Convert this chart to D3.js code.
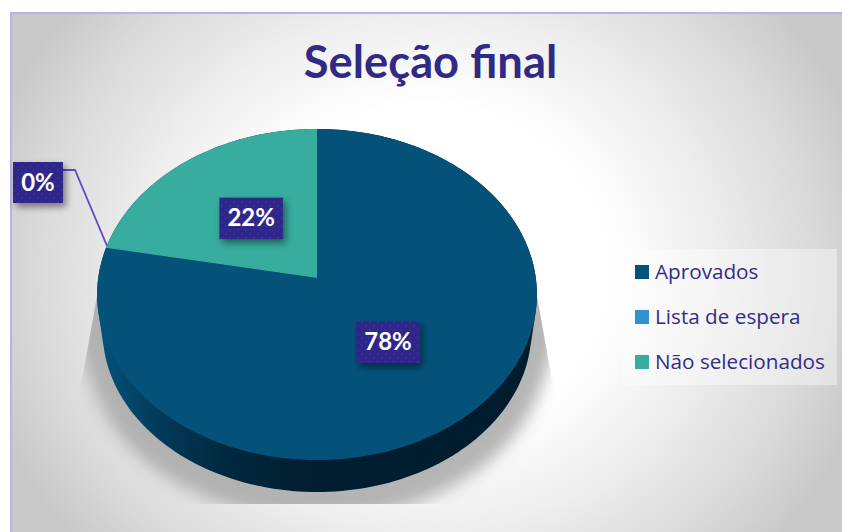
<!DOCTYPE html>
<html><head><meta charset="utf-8">
<style>html,body{margin:0;padding:0;background:#fff;overflow:hidden}svg{display:block}</style>
<script src="https://cdn.jsdelivr.net/npm/d3@7"></script></head>
<body><svg id="c" width="842" height="532"></svg>
<script>
const categories = ["Aprovados", "Lista de espera", "Não selecionados"];
const values = [78, 0, 22];
const colors = ["#04527a", "#3491d1", "#38ac9f"];
const title = "Seleção final";

const svg = d3.select("#c");
const defs = svg.append("defs");

const bg = defs.append("radialGradient").attr("id","bg").attr("gradientUnits","userSpaceOnUse")
  .attr("cx",0).attr("cy",0).attr("r",1)
  .attr("gradientTransform","translate(425 272) scale(460 418)");
[[0,"#ffffff"],[0.4,"#ffffff"],[0.62,"#eeeeee"],[0.85,"#d9d9d9"],[1,"#c8c8c8"]]
  .forEach(s=>bg.append("stop").attr("offset",s[0]).attr("stop-color",s[1]));

const wall = defs.append("linearGradient").attr("id","wall").attr("gradientUnits","userSpaceOnUse")
  .attr("x1",100).attr("x2",535).attr("y1",0).attr("y2",0);
[[0,"#04527a"],[0.14,"#013a58"],[0.29,"#00283f"],[0.44,"#001f32"],[1,"#001c2e"]]
  .forEach(s=>wall.append("stop").attr("offset",s[0]).attr("stop-color",s[1]));

const pat = defs.append("pattern").attr("id","dots").attr("patternUnits","userSpaceOnUse").attr("width",8).attr("height",8);
pat.append("rect").attr("width",8).attr("height",8).attr("fill","#2f2588");
pat.append("rect").attr("x",1).attr("y",1).attr("width",2).attr("height",2).attr("fill","#382d9a");
pat.append("rect").attr("x",5).attr("y",5).attr("width",2).attr("height",2).attr("fill","#382d9a");

const blur = defs.append("filter").attr("id","blur").attr("x","-20%").attr("y","-20%").attr("width","140%").attr("height","140%");
blur.append("feGaussianBlur").attr("stdDeviation",8);
const ds = defs.append("filter").attr("id","ds").attr("x","-30%").attr("y","-30%").attr("width","170%").attr("height","170%");
ds.append("feDropShadow").attr("dx",3).attr("dy",4).attr("stdDeviation",3.5).attr("flood-color","#000").attr("flood-opacity",0.45);

svg.append("rect").attr("x",11).attr("y",13).attr("width",840).attr("height",530)
  .attr("fill","url(#bg)").attr("stroke","#b9b0ee").attr("stroke-width",2);

svg.append("text").attr("x",430.5).attr("y",78).attr("text-anchor","middle")
  .attr("font-family","Lato").attr("font-weight",700).attr("font-size",45.3).attr("fill","#312a85").text(title);

// projective view of the unit disc
const cx = 317, cy = 278, rx = 218.8, ry = 163.9, k = -0.0997;
const sx = d3.scaleLinear().domain([-1,1]).range([-rx,rx]);
const sy = d3.scaleLinear().domain([-1,1]).range([-ry,ry]);
const proj = (a,f=1,dy=0,s=1)=>{
  const u=Math.sin(a)*f, v=-Math.cos(a)*f, w=1+k*v;
  return [cx+s*sx(u)/w, cy+dy+s*sy(v)/w];
};
const line = d3.line().curve(d3.curveLinearClosed);
const ring = (dy,s)=>d3.range(0,361,1.5).map(d=>proj(d*Math.PI/180,1,dy,s));

const arcs = d3.pie().sort(null).value(d=>d)(values);

// ground shadow
const clip = defs.append("clipPath").attr("id","sc");
clip.append("path").attr("d","M97 296 L82 380 L60 440 L60 504 L580 504 L570 440 L552 380 L537 296 Z");
svg.append("g").attr("clip-path","url(#sc)").append("path")
  .attr("d",line(d3.polygonHull(ring(24,1.09).concat(ring(50,1.05)))))
  .attr("fill","#a8a8a8").attr("opacity",0.85).attr("filter","url(#blur)");

// wall
svg.append("path").attr("d",line(d3.polygonHull(ring(0,1).concat(ring(36.5,0.975))))).attr("fill","url(#wall)");

// top surface
arcs.forEach((a,i)=>{
  if(a.endAngle-a.startAngle<=0) return;
  const n=Math.max(2,Math.ceil((a.endAngle-a.startAngle)*180/Math.PI));
  const pts=[[cx,cy]].concat(d3.range(n+1).map(j=>proj(a.startAngle+(a.endAngle-a.startAngle)*j/n)));
  svg.append("path").attr("d",line(pts)).attr("fill",colors[i]);
});

// leader for the empty slice
const z = arcs[1], zp = proj(z.startAngle);
svg.append("path").attr("d",d3.line()([[62,170],[75,170],[zp[0]+1,zp[1]-2]]))
  .attr("fill","none").attr("stroke","#5a4fcf").attr("stroke-width",1.8);

// labels
const lab = (x,y,w,h,t)=>{
  svg.append("rect").attr("x",x-w/2).attr("y",y-h/2).attr("width",w).attr("height",h)
    .attr("fill","url(#dots)").attr("filter","url(#ds)");
  svg.append("text").attr("x",x).attr("y",y+8).attr("text-anchor","middle")
    .attr("font-family","Lato").attr("font-weight",700).attr("font-size",24).attr("fill","#fff").text(t);
};
arcs.forEach((a,i)=>{
  const t=values[i]+"%";
  if(a.endAngle-a.startAngle<=0){ lab(38,182.5,50,41,t); return; }
  const p=proj((a.startAngle+a.endAngle)/2,0.49);
  lab(p[0],p[1],63.5,41.5,t);
});

// legend
svg.append("rect").attr("x",623).attr("y",249).attr("width",214).attr("height",136).attr("fill","#fff").attr("fill-opacity",0.4);
categories.forEach((c,i)=>{
  const y=272+45*i;
  svg.append("rect").attr("x",635).attr("y",y-7).attr("width",14).attr("height",14).attr("fill",colors[i]);
  svg.append("text").attr("x",655).attr("y",y+7).attr("font-family","Open Sans").attr("font-size",20.7).attr("fill","#332c87").text(c);
});
</script></body></html>
